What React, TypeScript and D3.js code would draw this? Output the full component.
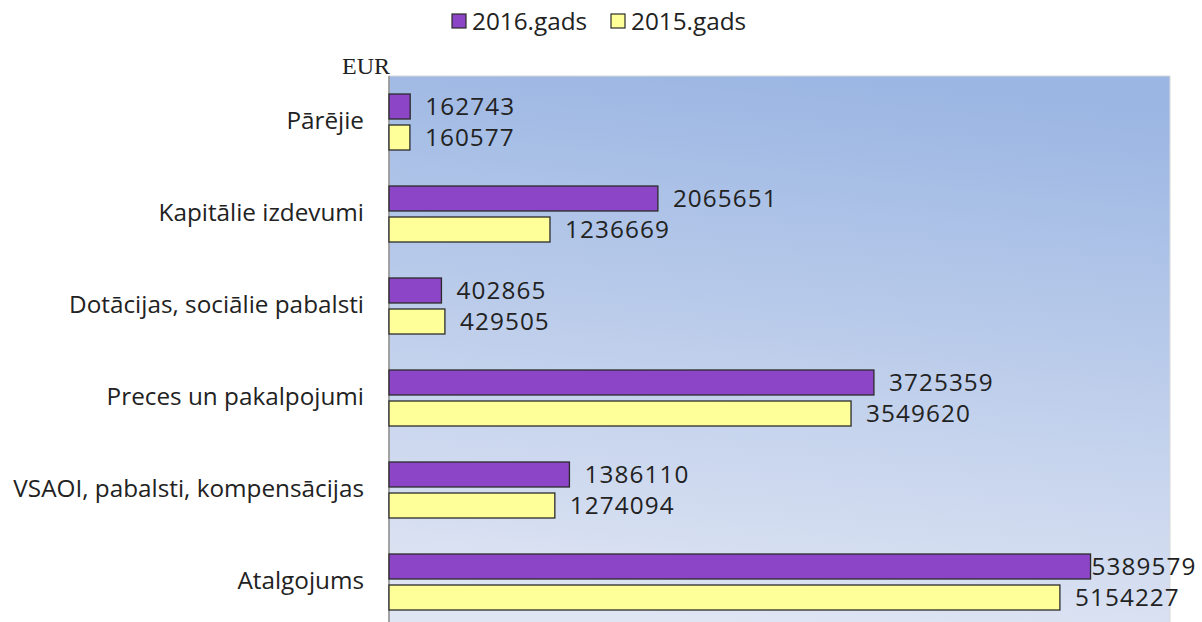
import React from "react";
import * as d3 from "d3";

const categories = [
  "Pārējie",
  "Kapitālie izdevumi",
  "Dotācijas, sociālie pabalsti",
  "Preces un pakalpojumi",
  "VSAOI, pabalsti, kompensācijas",
  "Atalgojums",
];
const values2016 = [162743, 2065651, 402865, 3725359, 1386110, 5389579];
const values2015 = [160577, 1236669, 429505, 3549620, 1274094, 5154227];
const seriesNames = ["2016.gads", "2015.gads"];
const seriesColors = ["#8B45C6", "#FFFF99"];
const unitLabel = "EUR";

const W = 1202;
const H = 622;
const plot = { left: 389, right: 1170, top: 76, bottom: 628 };
const font = "'Open Sans', 'Noto Sans', sans-serif";

export default function App() {
  const x = d3.scaleLinear().domain([0, 6000000]).range([plot.left, plot.right]);
  const y = d3.scaleBand().domain(categories).range([plot.top, plot.bottom]).paddingInner(0).paddingOuter(0);
  const barH = 25;
  const gap = 6;
  const series = [values2016, values2015];
  const fs = 24.3;
  const numSpacing = 1.1;
  const digitW = fs * 0.572 + numSpacing;

  return (
    <svg width={W} height={H} style={{ position: "absolute", left: 0, top: 0 }} fontFamily={font}>
      <defs>
        <linearGradient id="bg" x1="0.6" y1="0" x2="0.45" y2="1">
          <stop offset="0" stopColor="#9BB6E3" />
          <stop offset="1" stopColor="#DFE5F3" />
        </linearGradient>
      </defs>
      <rect x={plot.left} y={plot.top} width={plot.right - plot.left} height={plot.bottom - plot.top} fill="url(#bg)" stroke="#D8D8D8" strokeWidth={1} />
      <line x1={plot.left} x2={plot.left} y1={plot.top} y2={H} stroke="#8C8C8C" strokeWidth={1.5} />

      {categories.map((c, i) => {
        const cy = (y(c) as number) + y.bandwidth() / 2;
        return (
          <g key={c}>
            <text x={364} y={cy} textAnchor="end" dominantBaseline="middle" fontSize={fs} fill="#222">
              {c}
            </text>
            {series.map((vals, s) => {
              const by = s === 0 ? cy - gap / 2 - barH : cy + gap / 2;
              const end = x(vals[i]);
              const label = String(vals[i]);
              const tw = label.length * digitW;
              let lx = end + 15;
              if (lx + tw > W - 6) lx = end + 1;
              return (
                <g key={s}>
                  <rect x={plot.left} y={by} width={end - plot.left} height={barH} fill={seriesColors[s]} stroke="#2b2b2b" strokeWidth={1.3} />
                  <text x={lx} y={by + barH / 2 + 1.5} dominantBaseline="middle" fontSize={fs} letterSpacing={numSpacing} fill="#222">
                    {label}
                  </text>
                </g>
              );
            })}
          </g>
        );
      })}

      <text x={342} y={74} fontFamily="'Liberation Serif', 'DejaVu Serif', serif" fontSize={24} fill="#222">
        {unitLabel}
      </text>

      {seriesNames.map((n, s) => {
        const lx = s === 0 ? 452 : 611;
        return (
          <g key={n}>
            <rect x={lx} y={14} width={14} height={14} fill={seriesColors[s]} stroke="#2b2b2b" strokeWidth={1.2} />
            <text x={lx + 20} y={23.5} dominantBaseline="middle" fontSize={fs} fill="#222">
              {n}
            </text>
          </g>
        );
      })}
    </svg>
  );
}
